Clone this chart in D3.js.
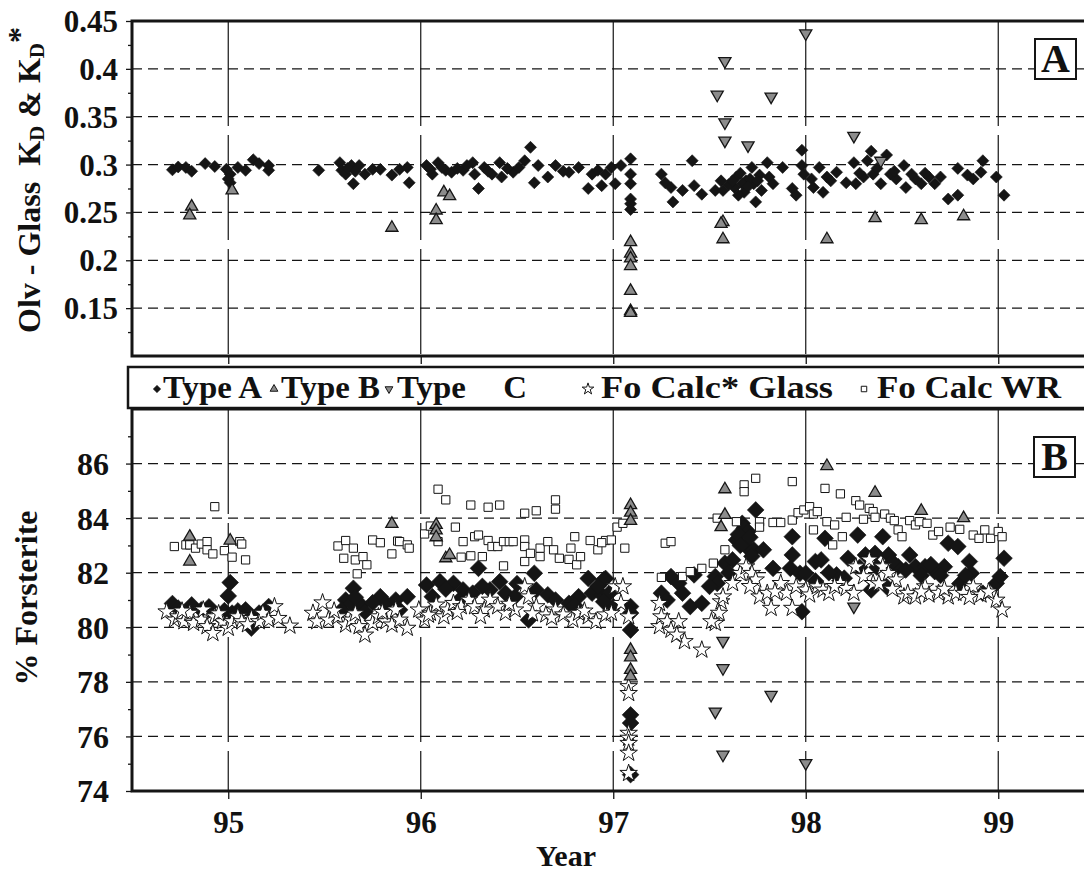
<!DOCTYPE html>
<html><head><meta charset="utf-8">
<script src="https://cdn.jsdelivr.net/npm/d3@7"></script>
<style>
body{margin:0;background:#fff}
svg{display:block}
svg text{font-family:"Liberation Serif","DejaVu Serif Condensed","DejaVu Serif",serif !important;font-weight:bold;fill:#111}
</style>
</head><body>
<svg id="c" width="1084" height="871"></svg>
<script>
// ---------- tick labels / categories ----------
const years = [95, 96, 97, 98, 99];
const yearLabels = ["95", "96", "97", "98", "99"];
const kdTicks = [0.15, 0.2, 0.25, 0.3, 0.35, 0.4, 0.45];
const kdTickLabels = ["0.15", "0.2", "0.25", "0.3", "0.35", "0.4", "0.45"];
const foTicks = [74, 76, 78, 80, 82, 84, 86];
const foTickLabels = ["74", "76", "78", "80", "82", "84", "86"];
const legendLabels = ["Type A", "Type B", "Type  C", "Fo Calc* Glass", "Fo Calc WR"];

// ---------- panel A : Olv-Glass KD ----------
const kdTypeA = [
 [94.71,0.2945],[94.74,0.2975],[94.78,0.297],[94.81,0.293],[94.88,0.301],[94.93,0.298],[94.99,0.295],
 [95.01,0.290],[95.01,0.281],[95.00,0.285],[95.05,0.297],[95.09,0.294],[95.13,0.305],[95.16,0.301],
 [95.21,0.294],[95.21,0.299],[95.47,0.294],[95.58,0.302],[95.59,0.294],[95.61,0.290],[95.65,0.280],
 [95.64,0.299],[95.68,0.299],[95.71,0.290],[95.75,0.295],[95.79,0.295],[95.85,0.289],[95.89,0.295],
 [95.93,0.297],[95.94,0.281],[95.62,0.296],[95.66,0.293],[96.03,0.299],[96.06,0.290],[96.09,0.302],
 [96.13,0.294],[96.16,0.292],[96.22,0.294],[96.27,0.302],[96.28,0.290],[96.30,0.275],[96.33,0.297],
 [96.37,0.290],[96.41,0.302],[96.42,0.287],[96.48,0.292],[96.51,0.297],[96.54,0.304],[96.57,0.318],
 [96.59,0.281],[96.61,0.299],[96.66,0.287],[96.70,0.299],[96.77,0.292],[96.82,0.297],[96.87,0.275],
 [96.89,0.290],[96.94,0.278],[96.96,0.290],[96.99,0.297],[96.05,0.295],[96.11,0.297],[96.19,0.296],
 [96.24,0.299],[96.35,0.293],[96.45,0.296],[96.74,0.293],[96.92,0.294],
 [97.01,0.280],[97.04,0.299],[97.09,0.306],[97.09,0.290],[97.09,0.280],[97.09,0.264],[97.09,0.259],[97.09,0.253],
 [97.25,0.290],[97.27,0.281],[97.30,0.276],[97.31,0.261],[97.36,0.273],[97.41,0.304],[97.42,0.278],
 [97.46,0.269],[97.53,0.273],[97.56,0.283],[97.57,0.273],[97.63,0.276],[97.64,0.287],[97.68,0.271],
 [97.69,0.283],[97.72,0.297],[97.73,0.280],[97.74,0.261],[97.76,0.289],[97.77,0.273],[97.80,0.302],
 [97.81,0.287],[97.83,0.280],[97.88,0.297],[97.93,0.275],[97.95,0.268],[97.98,0.315],[97.98,0.299],
 [97.99,0.290],[98.03,0.285],[98.04,0.276],[98.07,0.297],[98.09,0.271],[98.11,0.287],[98.16,0.292],
 [98.21,0.281],[98.25,0.302],[98.26,0.280],[98.30,0.287],[98.32,0.304],[98.34,0.314],[98.35,0.290],
 [98.39,0.280],[98.42,0.310],[98.44,0.290],[98.47,0.285],[98.51,0.299],[98.52,0.276],[98.57,0.285],
 [98.60,0.280],[98.64,0.287],[98.67,0.280],[98.70,0.287],[98.74,0.264],[98.79,0.268],[98.79,0.296],
 [98.84,0.289],[98.87,0.285],[98.91,0.292],[98.92,0.304],[98.99,0.287],[99.03,0.268],
 [97.60,0.279],[97.66,0.291],[97.71,0.285],[98.46,0.293],[98.55,0.290],[98.62,0.291],[98.13,0.283],
 [98.28,0.291],[98.37,0.296],[97.67,0.280],[97.70,0.277],[97.75,0.283],[97.62,0.283],[97.65,0.268]
];
const kdTypeB = [
 [94.81,0.256],[94.80,0.247],[95.02,0.273],[95.85,0.234],[96.12,0.271],[96.15,0.267],[96.08,0.252],
 [96.08,0.242],[97.57,0.240],[97.56,0.238],[97.57,0.222],[97.09,0.219],[97.09,0.207],[97.09,0.202],
 [97.09,0.194],[97.09,0.168],[97.09,0.147],[97.09,0.145],[98.11,0.222],[98.36,0.244],[98.60,0.242],
 [98.82,0.246]
];
const kdTypeC = [
 [97.58,0.408],[97.54,0.373],[97.58,0.344],[97.58,0.325],[97.82,0.371],[97.70,0.320],[98.00,0.437],
 [98.25,0.330],[98.39,0.304]
];

// ---------- panel B : % Forsterite ----------
const foTypeA = [
 [94.71,80.87],[94.74,80.70],[94.81,80.82],[94.86,80.64],[95.01,81.64],[95.00,81.15],[94.98,80.61],
 [95.02,80.52],[95.09,80.64],[95.12,79.97],[95.16,80.52],[95.21,80.76],[94.90,80.75],[95.05,80.60],
 [95.65,81.43],[95.61,81.00],[95.59,80.64],[95.64,80.88],[95.69,80.82],[95.71,80.57],[95.79,81.12],
 [95.82,80.88],[95.87,81.00],[95.93,81.12],[95.89,80.64],[95.75,80.90],[95.66,81.10],
 [96.03,81.55],[96.10,81.67],[96.06,81.12],[96.17,81.61],[96.22,81.37],[96.30,82.16],[96.27,81.25],
 [96.36,81.37],[96.41,81.67],[96.44,81.25],[96.49,81.12],[96.56,80.27],[96.59,81.98],[96.60,81.37],
 [96.66,81.19],[96.77,80.88],[96.82,81.12],[96.87,81.79],[96.89,81.25],[96.94,81.19],[96.96,81.79],
 [97.00,80.76],[96.95,81.74],[96.98,81.25],[96.95,80.94],[96.13,81.40],[96.20,81.00],[96.32,81.50],
 [96.50,81.60],[96.70,81.00],[96.80,80.80],[96.92,81.50],
 [97.09,80.76],[97.09,80.52],[97.09,79.90],[97.09,76.79],[97.09,76.49],[97.09,74.60],
 [97.25,81.25],[97.28,81.00],[97.30,81.86],[97.34,81.61],[97.36,81.25],[97.40,80.76],[97.42,81.92],
 [97.46,80.88],[97.53,81.86],[97.54,81.61],[97.58,82.35],[97.62,82.47],[97.64,83.20],[97.67,83.81],
 [97.68,83.63],[97.69,82.96],[97.70,83.51],[97.74,84.30],[97.73,82.84],[97.78,82.84],[97.83,82.16],
 [97.92,82.16],[97.93,83.32],[97.93,82.65],[97.97,81.98],[97.98,80.57],[98.00,81.98],[98.05,82.41],
 [98.08,82.47],[98.10,83.26],[98.16,81.92],[98.22,82.53],[98.27,83.38],[98.34,81.37],[98.31,82.65],
 [98.36,82.71],[98.40,83.32],[98.42,81.49],[98.43,82.65],[98.48,82.22],[98.54,82.65],[98.57,82.22],
 [98.62,82.22],[98.67,82.04],[98.72,82.22],[98.74,83.08],[98.79,82.96],[98.85,82.41],[98.86,81.98],
 [98.92,81.25],[98.99,81.61],[99.03,82.53],[99.01,81.86],
 [97.65,83.40],[97.66,83.00],[97.71,83.30],[97.72,82.60],[97.60,82.00],[97.50,81.50],[98.05,81.70],
 [98.12,82.00],[98.20,81.80],[98.28,82.20],[98.37,82.20],[98.45,82.40],[98.52,82.10],[98.60,81.90],
 [98.65,82.30],[98.70,81.90],[98.80,81.60],[98.83,81.90]
];
const foTypeB = [
 [94.80,83.32],[94.80,82.41],[95.01,83.18],[95.85,83.79],[96.08,83.75],[96.08,83.55],[96.08,83.30],
 [96.13,82.53],[96.15,82.65],[97.09,84.48],[97.09,84.20],[97.09,83.90],[97.58,85.06],[97.58,84.12],
 [97.56,83.67],[98.11,85.91],[98.36,84.93],[98.60,84.27],[98.82,84.00],[97.09,79.17],[97.09,78.90],
 [97.09,78.44],[97.09,78.20]
];
const foTypeC = [
 [97.57,79.50],[97.57,78.50],[97.53,76.91],[97.57,75.33],[97.82,77.52],[98.00,75.02],[98.25,80.76]
];
const foCalcWR = [
 [94.72,82.96],[94.78,83.02],[94.80,83.02],[94.83,82.90],[94.86,83.05],[94.89,83.14],[94.89,82.84],
 [94.92,82.69],[94.93,84.42],[94.98,82.81],[95.02,82.57],[95.06,83.14],[95.07,83.05],[95.09,82.47],
 [95.57,82.98],[95.61,83.18],[95.60,82.53],[95.65,82.90],[95.66,82.47],[95.70,82.59],[95.72,82.29],
 [95.67,81.96],[95.75,83.20],[95.79,83.10],[95.85,82.69],[95.88,83.16],[95.89,83.14],[95.93,83.02],
 [95.94,82.90],[96.09,85.06],[96.13,84.67],[96.02,83.42],[96.05,83.71],[96.09,83.14],[96.18,83.67],
 [96.26,84.48],[96.35,84.40],[96.41,84.48],[96.54,84.18],[96.60,84.27],[96.70,84.67],[96.70,84.33],
 [96.21,82.57],[96.22,83.14],[96.26,82.62],[96.28,83.32],[96.30,83.38],[96.32,82.59],[96.35,83.18],
 [96.37,82.96],[96.40,82.96],[96.43,82.25],[96.43,83.14],[96.46,83.14],[96.48,83.14],[96.54,83.20],
 [96.54,82.96],[96.54,82.41],[96.57,82.71],[96.62,82.59],[96.62,82.90],[96.66,83.14],[96.69,82.84],
 [96.72,82.53],[96.77,82.49],[96.78,82.90],[96.80,83.32],[96.81,82.29],[96.83,82.59],[96.88,83.18],
 [96.92,82.84],[96.96,83.18],[96.94,83.10],[96.99,83.20],[97.02,83.67],[97.05,83.81],[97.06,82.90],
 [97.27,83.08],[97.30,83.14],[97.25,81.83],[97.36,81.86],[97.40,82.04],[97.46,82.16],[97.52,82.35],
 [97.58,82.84],[97.54,84.00],[97.64,83.87],[97.68,85.22],[97.68,84.97],[97.74,85.46],[97.76,83.87],
 [97.76,83.67],[97.83,83.84],[97.87,83.84],[97.93,85.34],[97.93,83.93],[97.96,84.20],[97.99,84.30],
 [98.02,84.42],[98.04,84.15],[98.06,84.24],[98.04,83.57],[98.11,83.87],[98.10,85.09],[98.18,84.89],
 [98.15,83.75],[98.19,83.32],[98.14,83.02],[98.21,84.03],[98.26,84.64],[98.28,84.48],[98.30,83.96],
 [98.33,84.36],[98.35,84.24],[98.36,84.03],[98.41,84.15],[98.44,84.00],[98.46,83.91],[98.48,83.57],
 [98.50,83.32],[98.54,83.91],[98.57,83.75],[98.59,83.87],[98.63,83.81],[98.66,83.38],[98.69,83.51],
 [98.75,83.67],[98.80,83.59],[98.87,83.38],[98.90,83.26],[98.93,83.57],[98.96,83.26],[99.00,83.51],
 [99.02,83.32]
];
const foCalcGlass = [
 [94.68,80.57],[94.72,80.27],[94.74,80.39],[94.77,80.21],[94.80,80.52],[94.82,80.15],[94.86,80.27],
 [94.87,80.64],[94.89,80.03],[94.92,79.78],[94.93,80.39],[94.97,80.21],[95.00,79.97],[95.02,80.21],
 [95.05,80.39],[95.07,80.21],[95.12,80.33],[95.16,80.21],[95.18,80.52],[95.21,80.27],[95.24,80.76],
 [95.26,80.33],[95.32,80.05],[94.76,80.60],[94.95,80.50],[95.10,80.10],
 [95.44,80.52],[95.46,80.21],[95.49,80.90],[95.52,80.27],[95.57,80.39],[95.61,80.09],[95.64,80.27],
 [95.68,80.03],[95.71,79.72],[95.75,80.15],[95.78,80.39],[95.82,80.21],[95.85,80.09],[95.87,80.64],
 [95.89,80.27],[95.93,79.97],[95.55,80.60],[95.66,80.50],[95.80,80.55],
 [95.99,80.64],[96.02,80.27],[96.05,80.52],[96.08,80.82],[96.12,80.39],[96.14,80.64],[96.17,80.88],
 [96.21,80.76],[96.25,81.00],[96.28,80.76],[96.33,80.64],[96.36,81.00],[96.40,80.76],[96.44,80.52],
 [96.49,80.64],[96.54,81.49],[96.56,81.12],[96.60,80.76],[96.65,80.46],[96.70,80.64],[96.74,80.46],
 [96.79,80.27],[96.82,80.52],[96.87,80.39],[96.91,80.21],[96.96,80.46],[96.04,80.45],[96.19,80.55],
 [96.31,80.40],[96.46,80.85],[96.58,80.50],[96.68,80.35],[96.85,80.60],
 [96.99,80.52],[97.01,81.49],[97.05,81.49],[97.04,80.88],[97.08,80.39],[97.08,77.83],[97.08,77.58],
 [97.08,76.12],[97.08,75.94],[97.08,75.75],[97.08,75.39],[97.08,74.65],
 [97.24,80.88],[97.24,80.03],[97.25,80.39],[97.28,80.21],[97.30,79.90],[97.34,80.21],[97.37,79.48],
 [97.33,79.72],[97.46,79.17],[97.56,80.94],[97.55,80.52],[97.53,80.15],[97.51,80.21],[97.57,81.12],
 [97.62,81.61],[97.66,81.98],[97.69,82.22],[97.72,81.98],[97.74,81.74],[97.76,81.12],[97.80,81.25],
 [97.82,80.70],[97.87,81.61],[97.90,81.25],[97.93,80.70],[97.95,81.49],[98.00,81.37],[98.02,81.19],
 [98.06,81.49],[98.09,81.37],[98.12,81.25],[98.18,81.61],[98.21,81.43],[98.25,81.25],[98.26,82.22],
 [98.30,81.86],[98.33,82.47],[98.35,81.61],[98.40,82.22],[98.43,81.98],[98.47,81.74],[98.51,81.12],
 [98.53,81.25],[98.57,81.12],[98.62,81.49],[98.64,81.19],[98.69,81.25],[98.74,81.12],[98.78,81.25],
 [98.82,81.25],[98.87,81.49],[98.91,81.19],[98.99,81.00],[99.02,80.64],[97.71,81.50],[97.84,81.30],
 [98.15,81.50],[98.38,81.60],[98.45,81.40],[98.60,81.30],[98.72,81.40],[98.85,81.10],[98.95,81.30]
];

// ---------- scales ----------
const svg = d3.select("#c");
const x = d3.scaleLinear().domain([94.5, 99.5]).range([132, 1094.5]);
const yT = d3.scaleLinear().domain([0.1, 0.45]).range([356, 21]);
const yB = d3.scaleLinear().domain([74, 88]).range([791, 409]);
const INK = "#151515";

function grid(g, yS, vals, y0, y1) {
  g.selectAll(null).data(vals).join("line")
    .attr("x1", 132).attr("x2", 1100).attr("y1", d => yS(d)).attr("y2", d => yS(d))
    .attr("stroke", INK).attr("stroke-width", 1.3).attr("stroke-dasharray", "10,6");
  g.selectAll(null).data(years).join("line")
    .attr("x1", d => x(d)).attr("x2", d => x(d)).attr("y1", y0).attr("y2", y1)
    .attr("stroke", INK).attr("stroke-width", 1.2).attr("stroke-dasharray", "105,9");
}
const gGrid = svg.append("g");
grid(gGrid, yT, [0.15, 0.2, 0.25, 0.3, 0.35, 0.4], 21, 356);
grid(gGrid, yB, [76, 78, 80, 82, 84, 86], 409, 791);

// ---------- axes ----------
function styleAxis(g, size) {
  g.attr("font-family", null);
  g.select(".domain").remove();
  g.selectAll(".tick line").attr("stroke", INK).attr("stroke-width", 1.3);
  g.selectAll("text").attr("font-size", size).attr("fill", INK);
}
const axT = svg.append("g").attr("transform", "translate(132,0)")
  .call(d3.axisLeft(yT).tickValues(kdTicks).tickSize(6).tickPadding(8)
    .tickFormat((d, i) => kdTickLabels[i]));
styleAxis(axT, 31);
axT.selectAll("text").attr("dy", "0.34em");
svg.append("g").attr("transform", "translate(132,0)")
  .call(d3.axisLeft(yT).tickValues(d3.range(0.125, 0.45, 0.05)).tickSize(4).tickFormat(""))
  .call(g => styleAxis(g, 10));

const axB = svg.append("g").attr("transform", "translate(132,0)")
  .call(d3.axisLeft(yB).tickValues(foTicks).tickSize(6).tickPadding(17)
    .tickFormat((d, i) => foTickLabels[i]));
styleAxis(axB, 32);
axB.selectAll("text").attr("dy", "0.34em");
svg.append("g").attr("transform", "translate(132,0)")
  .call(d3.axisLeft(yB).tickValues([75, 77, 79, 81, 83, 85, 87]).tickSize(4).tickFormat(""))
  .call(g => styleAxis(g, 10));

const axX = svg.append("g").attr("transform", "translate(0,791)")
  .call(d3.axisBottom(x).tickValues(years).tickSize(8).tickPadding(12)
    .tickFormat((d, i) => yearLabels[i]));
styleAxis(axX, 31);
svg.append("g").attr("transform", "translate(0,356)")
  .call(d3.axisBottom(x).tickValues(years).tickSize(8).tickFormat(""))
  .call(g => styleAxis(g, 10));
svg.append("g").attr("transform", "translate(0,409)")
  .call(d3.axisTop(x).tickValues(years).tickSize(8).tickFormat(""))
  .call(g => styleAxis(g, 10));

// ---------- frames ----------
svg.append("rect").attr("x", 132).attr("y", 21).attr("width", 1000).attr("height", 335)
  .attr("fill", "none").attr("stroke", INK).attr("stroke-width", 3);
svg.append("rect").attr("x", 128).attr("y", 367).attr("width", 1000).attr("height", 41)
  .attr("fill", "#fff").attr("stroke", INK).attr("stroke-width", 2.5);
svg.append("rect").attr("x", 132).attr("y", 409).attr("width", 1000).attr("height", 382)
  .attr("fill", "none").attr("stroke", INK).attr("stroke-width", 3);

// ---------- symbols ----------
const pDiamondS = d3.symbol().type(d3.symbolSquare).size(72)();
const pDiamondL = d3.symbol().type(d3.symbolSquare).size(140)();
const pTri = d3.symbol().type(d3.symbolTriangle).size(64)();
const pStar = d3.symbol().type(d3.symbolStar).size(95)();
const pSquare = d3.symbol().type(d3.symbolSquare).size(68)();
const TRI_FILL = "#8c8c8c";

function plot(data, yS, path, rot, fill, stroke, sw) {
  svg.append("g").selectAll("path").data(data).join("path")
    .attr("transform", d => `translate(${x(d[0])},${yS(d[1])}) rotate(${rot})`)
    .attr("d", path).attr("fill", fill).attr("stroke", stroke).attr("stroke-width", sw);
}
// panel A
plot(kdTypeA, yT, pDiamondS, 45, INK, INK, 0.6);
plot(kdTypeB, yT, pTri, 0, TRI_FILL, INK, 1.3);
plot(kdTypeC, yT, pTri, 180, TRI_FILL, INK, 1.3);
// panel B
plot(foTypeA, yB, pDiamondL, 45, INK, INK, 0.6);
plot(foCalcGlass, yB, pStar, 0, "#fff", INK, 1);
plot(foCalcWR, yB, pSquare, 0, "#fff", INK, 1);
plot(foTypeB, yB, pTri, 0, TRI_FILL, INK, 1.3);
plot(foTypeC, yB, pTri, 180, TRI_FILL, INK, 1.3);

// ---------- legend ----------
const legX = [163, 281, 397, 601, 877];
const legW = [99, 99, 130, 232, 184];
const legSym = [
  {p: d3.symbol().type(d3.symbolSquare).size(22)(), r: 45, f: INK, x: 157},
  {p: d3.symbol().type(d3.symbolTriangle).size(26)(), r: 0, f: TRI_FILL, x: 274},
  {p: d3.symbol().type(d3.symbolTriangle).size(26)(), r: 180, f: TRI_FILL, x: 389},
  {p: d3.symbol().type(d3.symbolStar).size(42)(), r: 0, f: "#fff", x: 588},
  {p: d3.symbol().type(d3.symbolSquare).size(30)(), r: 0, f: "#fff", x: 864}
];
const gl = svg.append("g");
gl.selectAll("path").data(legSym).join("path")
  .attr("transform", d => `translate(${d.x},389) rotate(${d.r})`)
  .attr("d", d => d.p).attr("fill", d => d.f).attr("stroke", INK).attr("stroke-width", 1);
const legText = gl.selectAll("text").data(legendLabels).join("text")
  .attr("y", 398).attr("font-size", 31)
  .style("white-space", "pre").text(d => d);
// condense each label to the width it has in the original legend
const natural = legText.nodes().map(n => n.getComputedTextLength());
const refScale = legW[1] / (natural[1] || 1);
legText.each(function(d, i) {
  let s = legW[i] / (natural[i] || 1);
  if (i === 2) {
    s = refScale;
    const extra = (legW[i] / s - natural[i]) / 2;
    d3.select(this).style("word-spacing", Math.max(0, extra) + "px");
  }
  d3.select(this).attr("transform", `translate(${legX[i]},0) scale(${s},1)`);
});

// ---------- panel tags ----------
function tag(label, x0, y0) {
  svg.append("rect").attr("x", x0).attr("y", y0).attr("width", 41).attr("height", 40)
    .attr("fill", "#fff").attr("stroke", INK).attr("stroke-width", 2);
  svg.append("text").attr("x", x0 + 20.5).attr("y", y0 + 33).attr("text-anchor", "middle")
    .attr("font-size", 40).text(label);
}
tag("A", 1035, 39);
tag("B", 1034, 437);

// ---------- axis titles ----------
const t1 = svg.append("text").attr("transform", "translate(40,180) rotate(-90)")
  .attr("text-anchor", "middle").attr("font-size", 32).style("white-space", "pre");
t1.append("tspan").text("Olv - Glass  K");
t1.append("tspan").attr("font-size", 21).attr("dy", 4).text("D");
t1.append("tspan").attr("dy", -4).text(" & K");
t1.append("tspan").attr("font-size", 21).attr("dy", 4).text("D");
t1.append("tspan").attr("dy", -14).text("*");

svg.append("text").attr("transform", "translate(37,598) rotate(-90)")
  .attr("text-anchor", "middle").attr("font-size", 32).text("% Forsterite");
svg.append("text").attr("x", 566).attr("y", 866).attr("text-anchor", "middle")
  .attr("font-size", 30).text("Year");
</script>
</body></html>
